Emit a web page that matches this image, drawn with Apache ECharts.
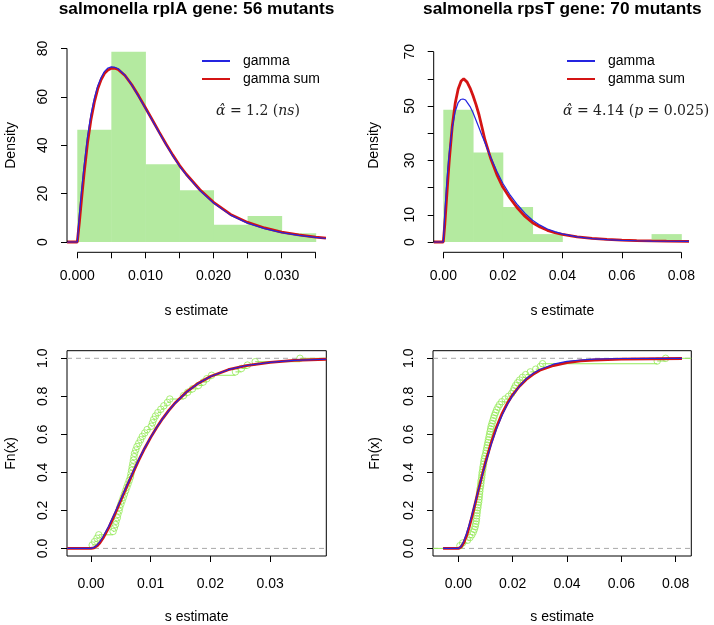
<!DOCTYPE html>
<html><head><meta charset="utf-8">
<script src="https://cdn.jsdelivr.net/npm/echarts@6/dist/echarts.min.js"></script>
<style>html,body{margin:0;padding:0;background:#fff}#c{width:714px;height:625px}</style>
</head><body><div id="c"></div><script>
const FONT = '"Liberation Sans", Arial, Helvetica, sans-serif';
const SERIF = '"DejaVu Serif", serif';
const titles = ['salmonella rplA gene: 56 mutants', 'salmonella rpsT gene: 70 mutants'];
const legendNames = ['gamma', 'gamma sum'];
const xName = 's estimate';
const yNames = ['Density', 'Fn(x)'];
const annotations = ['{i|\u03b1\u0302} = 1.2 ({i|ns})', '{i|\u03b1\u0302} = 4.14 ({i|p} = 0.025)'];

// histograms (density)
const tlBinEdges = [0, 0.005, 0.01, 0.015, 0.02, 0.025, 0.03, 0.035];
const tlDensity = [46.4, 78.6, 32.1, 21.4, 7.1, 10.7, 3.6];
const trBinEdges = [0, 0.01, 0.02, 0.03, 0.04, 0.05, 0.06, 0.07, 0.08];
const trDensity = [48.6, 32.9, 12.9, 2.9, 0, 0, 0, 2.9];

// fitted density curves
const tlGamma = [[-0.0015,0],[0,0],[0.0003,11],[0.0006,20.5],[0.001,31.5],[0.0015,43.5],[0.002,52.5],[0.0025,59.3],[0.003,64.5],[0.0035,68],[0.004,70.5],[0.0045,71.9],[0.005,72.4],[0.0055,72.2],[0.006,71.6],[0.007,68.9],[0.008,64.9],[0.009,60.2],[0.010,55.3],[0.011,50.3],[0.012,45.3],[0.013,40.4],[0.014,35.7],[0.015,31.4],[0.016,27.7],[0.018,21.3],[0.020,16.1],[0.0225,11.1],[0.025,7.8],[0.0275,5.5],[0.030,3.9],[0.0325,2.7],[0.035,1.9],[0.0365,1.45]];
const tlGammaSum = [[-0.0015,0],[0,0],[0.0003,8],[0.0006,17],[0.001,28.5],[0.0015,41],[0.002,50.5],[0.0025,57.8],[0.003,63.3],[0.0035,67.1],[0.004,69.7],[0.0045,71.1],[0.005,71.8],[0.0055,71.8],[0.006,71.3],[0.007,68.8],[0.008,65],[0.009,60.4],[0.010,55.5],[0.011,50.5],[0.012,45.5],[0.013,40.6],[0.014,36],[0.015,31.7],[0.016,28],[0.018,21.6],[0.020,16.4],[0.0225,11.4],[0.025,8.1],[0.0275,5.8],[0.030,4.1],[0.0325,2.9],[0.035,2.05],[0.0365,1.6]];
const trGamma = [[-0.0032,0],[0,0],[0.0005,10.5],[0.001,19.5],[0.0015,26.8],[0.002,32.8],[0.003,42],[0.004,48],[0.005,51.3],[0.0058,52.4],[0.0066,52.6],[0.0075,52.2],[0.008,51.6],[0.009,49.8],[0.010,47.5],[0.011,44.8],[0.012,42],[0.013,39.2],[0.014,36.5],[0.016,31],[0.018,26],[0.020,21.6],[0.0225,17.2],[0.025,13.6],[0.0275,10.5],[0.030,8.0],[0.0325,6.2],[0.035,4.8],[0.0375,3.8],[0.040,3.0],[0.045,1.9],[0.050,1.25],[0.055,0.85],[0.060,0.6],[0.065,0.45],[0.070,0.35],[0.075,0.28],[0.0826,0.2]];
const trGammaSum = [[-0.0032,0],[0,0],[0.0005,6.5],[0.001,14.5],[0.0015,22.5],[0.002,30],[0.003,42.5],[0.004,51],[0.005,56.3],[0.006,59.2],[0.00685,60],[0.0075,59.7],[0.008,58.8],[0.009,56.6],[0.010,53.8],[0.011,50.5],[0.012,46.8],[0.013,42.2],[0.014,37.5],[0.016,30.5],[0.018,24.8],[0.020,20.2],[0.0225,16.0],[0.025,12.4],[0.0275,9.4],[0.030,7.1],[0.0325,5.5],[0.035,4.3],[0.0375,3.4],[0.040,2.8],[0.045,1.9],[0.050,1.35],[0.055,0.97],[0.060,0.72],[0.065,0.54],[0.070,0.42],[0.075,0.33],[0.0826,0.25]];

// fitted cumulative curves
const blGammaCdf = [[-0.004,0],[0,0],[0.0005,0.005],[0.001,0.017],[0.0015,0.036],[0.002,0.06],[0.003,0.119],[0.004,0.187],[0.005,0.259],[0.006,0.331],[0.007,0.4],[0.008,0.467],[0.009,0.529],[0.010,0.585],[0.011,0.636],[0.012,0.683],[0.013,0.724],[0.014,0.761],[0.016,0.822],[0.018,0.869],[0.020,0.904],[0.023,0.94],[0.026,0.962],[0.030,0.979],[0.034,0.989],[0.0394,0.995]];
const blGammaSumCdf = [[-0.004,0],[0,0],[0.0005,0.003],[0.001,0.013],[0.0015,0.03],[0.002,0.053],[0.003,0.111],[0.004,0.18],[0.005,0.253],[0.006,0.326],[0.007,0.396],[0.008,0.464],[0.009,0.527],[0.010,0.584],[0.011,0.636],[0.012,0.683],[0.013,0.725],[0.014,0.762],[0.016,0.823],[0.018,0.869],[0.020,0.904],[0.023,0.94],[0.026,0.962],[0.030,0.979],[0.034,0.989],[0.0394,0.995]];
const brGammaCdf = [[-0.0056,0],[0,0],[0.001,0.0104],[0.002,0.0376],[0.003,0.0768],[0.004,0.124],[0.005,0.176],[0.006,0.231],[0.007,0.286],[0.008,0.342],[0.009,0.395],[0.010,0.447],[0.012,0.542],[0.014,0.626],[0.016,0.697],[0.018,0.756],[0.020,0.805],[0.0225,0.853],[0.025,0.892],[0.0275,0.92],[0.030,0.941],[0.035,0.969],[0.040,0.984],[0.045,0.991],[0.050,0.996],[0.060,0.999],[0.0823,1.0]];
const brGammaSumCdf = [[-0.0056,0],[0,0],[0.001,0.007],[0.002,0.029],[0.003,0.065],[0.004,0.112],[0.005,0.166],[0.006,0.224],[0.007,0.283],[0.008,0.341],[0.009,0.398],[0.010,0.452],[0.012,0.551],[0.014,0.636],[0.016,0.706],[0.018,0.762],[0.020,0.808],[0.0225,0.853],[0.025,0.889],[0.0275,0.916],[0.030,0.937],[0.035,0.962],[0.040,0.977],[0.045,0.986],[0.050,0.991],[0.060,0.996],[0.0823,0.999]];

// sorted s estimates (empirical CDF)
const blSample = [0.0002,0.0006,0.0010,0.0013,0.0037,0.0039,0.0041,0.0042,0.0044,0.0045,0.0047,0.0048,0.0050,0.0052,0.0054,0.0056,0.0058,0.0060,0.0062,0.0064,0.0066,0.0067,0.0068,0.0069,0.0070,0.0071,0.0072,0.0073,0.0075,0.0077,0.0080,0.0083,0.0086,0.0090,0.0094,0.0101,0.0103,0.0105,0.0108,0.0112,0.0117,0.0122,0.0128,0.0132,0.0155,0.0162,0.0170,0.0180,0.0188,0.0194,0.0202,0.0242,0.0252,0.0262,0.0275,0.0350];
const brSample = [0.0006,0.0016,0.0034,0.0043,0.0050,0.0055,0.0059,0.0062,0.0064,0.0066,0.0067,0.0068,0.0069,0.0070,0.0072,0.0073,0.0075,0.0076,0.0077,0.0078,0.0079,0.0080,0.0082,0.0083,0.0084,0.0086,0.0087,0.0088,0.0090,0.0091,0.0093,0.0094,0.0096,0.0098,0.0101,0.0103,0.0105,0.0107,0.0109,0.0111,0.0113,0.0115,0.0117,0.0119,0.0121,0.0124,0.0127,0.0130,0.0133,0.0137,0.0141,0.0146,0.0152,0.0160,0.0172,0.0185,0.0196,0.0202,0.0206,0.0211,0.0218,0.0226,0.0236,0.0248,0.0265,0.0285,0.0302,0.0310,0.0732,0.0763];

// ticks
const tlXTicks = [0, 0.005, 0.01, 0.015, 0.02, 0.025, 0.03, 0.035];
const tlXLabels = [0, 0.01, 0.02, 0.03];
const tlYTicks = [0, 20, 40, 60, 80];
const trXTicks = [0, 0.02, 0.04, 0.06, 0.08];
const trYTicks = [0, 10, 20, 30, 40, 50, 60, 70];
const trYLabels = [0, 10, 30, 50, 70];
const blXTicks = [0, 0.01, 0.02, 0.03];
const brXTicks = [0, 0.02, 0.04, 0.06, 0.08];
const ecdfYTicks = [0, 0.2, 0.4, 0.6, 0.8, 1.0];

const HIST = '#b4eaa0', ECDF = '#96ea5a', BLUE = '#2424e0', RED = '#d41414';

const grids = [
  {left: 67, top: 38.5, width: 259, height: 213.8},
  {left: 433.7, top: 38.5, width: 257.3, height: 213.8},
  {left: 67, top: 350.7, width: 259.3, height: 206, show: true, borderColor: '#000', borderWidth: 1},
  {left: 433, top: 350.7, width: 258.3, height: 206, show: true, borderColor: '#000', borderWidth: 1}
];
const xr = [[-0.00151, 0.03651], [-0.00323, 0.08326], [-0.00402, 0.03941], [-0.00931, 0.08574]];
const yr = [[-4.26, 84.1], [-3.79, 74.84], [-0.04, 1.04], [-0.04, 1.04]];

const txt = {fontFamily: FONT, fontSize: 14, color: '#000'};
function xAxis(i, ticks, labels, dec, labelMargin, nameGap) {
  return {type: 'value', gridIndex: i, min: xr[i][0], max: xr[i][1], position: 'bottom',
    axisLine: {show: false, onZero: false}, splitLine: {show: false},
    axisTick: {show: true, customValues: ticks, length: 6, lineStyle: {color: '#000', width: 1}},
    axisLabel: Object.assign({customValues: labels, margin: labelMargin, formatter: v => v.toFixed(dec)}, txt),
    name: xName, nameLocation: 'middle', nameGap: nameGap, nameTextStyle: txt};
}
function yAxis(i, ticks, labels, dec, name, nameGap) {
  return {type: 'value', gridIndex: i, min: yr[i][0], max: yr[i][1], position: 'left',
    axisLine: {show: false, onZero: false}, splitLine: {show: false},
    axisTick: {show: true, customValues: ticks, length: 6, lineStyle: {color: '#000', width: 1}},
    axisLabel: Object.assign({customValues: labels, rotate: 90, margin: 17, formatter: v => v.toFixed(dec)}, txt),
    name: name, nameLocation: 'middle', nameGap: nameGap, nameRotate: 90, nameTextStyle: txt};
}

function histSeries(i, edges, dens) {
  return {type: 'custom', xAxisIndex: i, yAxisIndex: i, silent: true, z: 1,
    data: dens.map((d, k) => [edges[k], edges[k + 1], d]),
    encode: {x: [0, 1], y: 2},
    renderItem: (p, api) => {
      const a = api.coord([api.value(0), api.value(2)]);
      const b = api.coord([api.value(1), 0]);
      return {type: 'rect', shape: {x: a[0], y: a[1], width: b[0] - a[0] + 0.5, height: b[1] - a[1]}, style: {fill: HIST}};
    }};
}
function curve(i, name, data, color, width, z) {
  return {type: 'line', name: name, xAxisIndex: i, yAxisIndex: i, data: data, symbol: 'none', showSymbol: false,
    lineStyle: {color: color, width: width}, itemStyle: {color: color}, z: z, silent: true};
}
function seg(i, data, color, dash) {
  return {type: 'line', xAxisIndex: i, yAxisIndex: i, data: data, symbol: 'none', clip: false, silent: true, z: dash ? 1 : 6,
    lineStyle: {color: color, width: 1, type: dash ? [5, 4] : 'solid'}};
}
function ecdfSeries(i, sample) {
  const n = sample.length;
  const steps = [[xr[i][0], sample[0], 0]];
  sample.forEach((x, k) => steps.push([x, k < n - 1 ? sample[k + 1] : xr[i][1], (k + 1) / n]));
  return [
    {type: 'custom', xAxisIndex: i, yAxisIndex: i, silent: true, z: 2, data: steps, encode: {x: [0, 1], y: 2},
      renderItem: (p, api) => {
        const a = api.coord([api.value(0), api.value(2)]);
        const b = api.coord([api.value(1), api.value(2)]);
        return {type: 'line', shape: {x1: a[0], y1: a[1], x2: b[0], y2: b[1]}, style: {stroke: ECDF, lineWidth: 1}};
      }},
    {type: 'scatter', xAxisIndex: i, yAxisIndex: i, silent: true, z: 2, symbol: 'circle', symbolSize: 6.5,
      data: sample.map((x, k) => [x, (k + 1) / n]),
      itemStyle: {color: 'rgba(0,0,0,0)', borderColor: ECDF, borderWidth: 1}}
  ];
}

const series = [
  histSeries(0, tlBinEdges, tlDensity),
  histSeries(1, trBinEdges, trDensity),
  curve(0, legendNames[1], tlGammaSum, RED, 2.8, 3),
  curve(0, legendNames[0], tlGamma, BLUE, 1.2, 4),
  curve(1, legendNames[1], trGammaSum, RED, 2.8, 3),
  curve(1, legendNames[0], trGamma, BLUE, 1.2, 4),
  seg(0, [[xr[0][0], 0], [xr[0][0], 80]], '#000'),
  seg(0, [[0, yr[0][0]], [0.035, yr[0][0]]], '#000'),
  seg(1, [[xr[1][0], 0], [xr[1][0], 70]], '#000'),
  seg(1, [[0, yr[1][0]], [0.08, yr[1][0]]], '#000'),
  seg(2, [[xr[2][0], 0], [xr[2][1], 0]], '#a8a8a8', true),
  seg(2, [[xr[2][0], 1], [xr[2][1], 1]], '#a8a8a8', true),
  seg(3, [[xr[3][0], 0], [xr[3][1], 0]], '#a8a8a8', true),
  seg(3, [[xr[3][0], 1], [xr[3][1], 1]], '#a8a8a8', true),
  ...ecdfSeries(2, blSample),
  ...ecdfSeries(3, brSample),
  curve(2, legendNames[1], blGammaSumCdf, RED, 2.8, 3),
  curve(2, legendNames[0], blGammaCdf, BLUE, 1.2, 4),
  curve(3, legendNames[1], brGammaSumCdf, RED, 2.8, 3),
  curve(3, legendNames[0], brGammaCdf, BLUE, 1.2, 4)
];

const titleStyle = {fontFamily: FONT, fontSize: 17.3, fontWeight: 'bold', color: '#000'};
const annStyle = {fontFamily: SERIF, fontSize: 14, fontWeight: 'normal', color: '#222',
  rich: {i: {fontFamily: SERIF, fontSize: 14, fontStyle: 'italic', color: '#222'}}};
const legendBase = {orient: 'vertical', top: 54, padding: 0, itemWidth: 28, itemHeight: 14, itemGap: 4,
  selectedMode: false, data: legendNames, itemStyle: {opacity: 0},
  textStyle: {fontFamily: FONT, fontSize: 14, color: '#000', padding: [0, 0, 0, 8]}};

const chart = echarts.init(document.getElementById('c'), null, {renderer: 'canvas'});
chart.setOption({
  animation: false,
  backgroundColor: '#fff',
  title: [
    {text: titles[0], left: 196.5, top: 1, textAlign: 'center', padding: 0, textStyle: titleStyle},
    {text: titles[1], left: 562.3, top: 1, textAlign: 'center', padding: 0, textStyle: titleStyle},
    {text: annotations[0], left: 216, top: 104, padding: 0, textStyle: annStyle},
    {text: annotations[1], left: 563, top: 104, padding: 0, textStyle: annStyle}
  ],
  legend: [
    Object.assign({left: 201}, legendBase),
    Object.assign({left: 566}, legendBase)
  ],
  grid: grids,
  xAxis: [
    xAxis(0, tlXTicks, tlXLabels, 3, 17, 52),
    xAxis(1, trXTicks, trXTicks, 2, 17, 52),
    xAxis(2, blXTicks, blXTicks, 2, 21, 54),
    xAxis(3, brXTicks, brXTicks, 2, 21, 54)
  ],
  yAxis: [
    yAxis(0, tlYTicks, tlYTicks, 0, yNames[0], 49),
    yAxis(1, trYTicks, trYLabels, 0, yNames[0], 53),
    yAxis(2, ecdfYTicks, ecdfYTicks, 1, yNames[1], 49),
    yAxis(3, ecdfYTicks, ecdfYTicks, 1, yNames[1], 51)
  ],
  series: series
});
</script></body></html>
